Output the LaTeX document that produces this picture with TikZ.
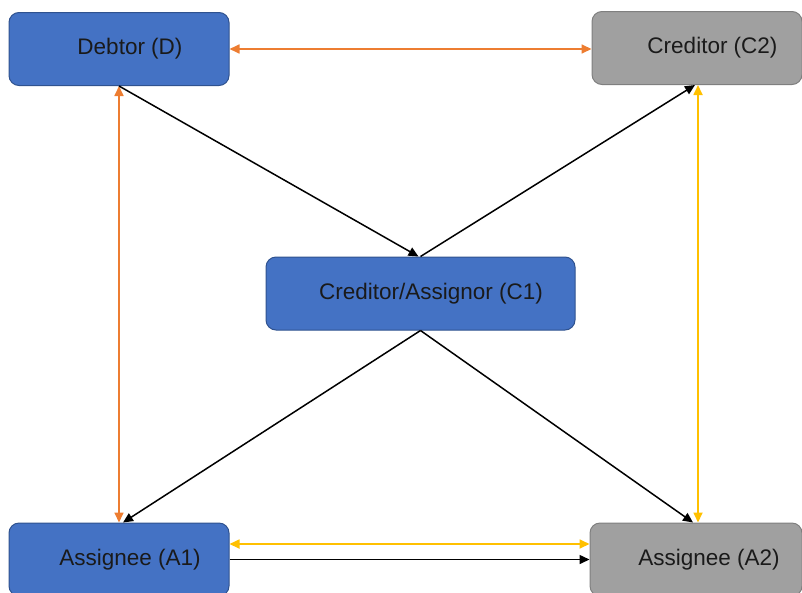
\documentclass[tikz,border=0pt]{standalone}
\usepackage{fontspec}
\setmainfont{Liberation Sans}
\usetikzlibrary{arrows.meta}

\definecolor{boxblue}{HTML}{4472C4}
\definecolor{blueline}{HTML}{2F528F}
\definecolor{boxgray}{HTML}{A0A0A0}
\definecolor{grayline}{HTML}{7F7F7F}
\definecolor{linkorange}{HTML}{ED7D31}
\definecolor{linkyellow}{HTML}{FFC000}
\definecolor{textdark}{HTML}{1A1A1A}

\begin{document}
\begin{tikzpicture}[x=1pt,y=-1pt,
  >={Triangle[length=10pt,width=9pt]},
  party/.style={rectangle,rounded corners=10pt,draw=blueline,fill=boxblue,line width=1pt,
    inner sep=0pt,minimum height=73pt,text=textdark,font=\fontsize{22.5}{27}\selectfont},
  outsider/.style={party,draw=grayline,fill=boxgray},
  link/.style={<->,line width=1.7pt},
  flow/.style={->,line width=1.5pt,black}]

\useasboundingbox (0,0) rectangle (802,592);

%% The five parties
\node[party,minimum width=220pt] (D) at (119,49) {\hspace*{22pt}Debtor (D)};
\node[outsider,minimum width=210pt] (C2) at (697,48) {\hspace*{31pt}Creditor (C2)};
\node[party,minimum width=309pt] (C1) at (420.5,293.5) {\hspace*{21pt}Creditor/Assignor (C1)};
\node[party,minimum width=220pt] (A1) at (119,559.5) {\hspace*{22pt}Assignee (A1)};
\node[outsider,minimum width=212pt] (A2) at (696,559.5) {\hspace*{26pt}Assignee (A2)};

%% Two-way links
\draw[link,linkorange] (D.east) -- (D.east -| C2.west);
\draw[link,linkorange] (D.south) -- (D.south |- A1.north);
\draw[link,linkyellow] ([xshift=1pt]C2.south) -- ([xshift=1pt]C2.south |- A2.north);
\draw[link,linkyellow] ([yshift=15.5pt]A1.east) -- ([yshift=15.5pt]A1.east -| A2.west);

%% Assignment flows
\draw[flow] (D.south) -- ([xshift=-2pt]C1.north);
\draw[flow] (C1.north) -- ([xshift=-2pt]C2.south);
\draw[flow] (C1.south) -- ([xshift=4pt]A1.north);
\draw[flow] (C1.south) -- ([xshift=-3pt]A2.north);
\draw[flow] (A1.east) -- (A2.west);

\end{tikzpicture}
\end{document}
